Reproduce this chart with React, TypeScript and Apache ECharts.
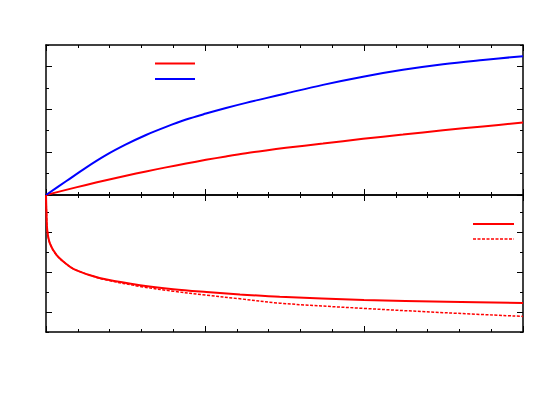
import React, { useEffect, useRef } from "react";
import * as echarts from "echarts";

// Top panel
const topX = [0, 0.126, 0.252, 0.377, 0.503, 0.629, 0.755, 0.881, 1.006, 1.132, 1.258, 1.384, 1.509, 1.742, 1.994, 2.245, 2.497, 2.748, 3.0];
const topBlue = [0, 0.32, 0.64, 0.93, 1.18, 1.4, 1.59, 1.76, 1.9, 2.03, 2.15, 2.26, 2.37, 2.57, 2.76, 2.92, 3.05, 3.15, 3.24];
const topRed = [0, 0.12, 0.235, 0.345, 0.45, 0.55, 0.645, 0.735, 0.82, 0.9, 0.975, 1.04, 1.1, 1.2, 1.31, 1.41, 1.51, 1.6, 1.69];

// Bottom panel
const botX = [0, 0.003, 0.008, 0.025, 0.067, 0.12, 0.172, 0.277, 0.382, 0.591, 0.8, 1.01, 1.22, 1.47, 2.0, 2.52, 3.0];
const botSolid = [-0.08, -0.5, -0.96, -1.29, -1.58, -1.775, -1.92, -2.08, -2.19, -2.33, -2.43, -2.5, -2.56, -2.62, -2.7, -2.745, -2.775];
const botDashed = [-0.08, -0.5, -0.96, -1.29, -1.58, -1.775, -1.92, -2.08, -2.2, -2.36, -2.48, -2.58, -2.67, -2.78, -2.91, -3.02, -3.11];

const topYMajor = [0, 1, 2, 3];
const topYMinor = [0.5, 1.5, 2.5, 3.5];
const botYMajor = [-3, -2, -1];
const botYMinor = [-3.5, -2.5, -1.5, -0.5];

const zip = (xs: number[], ys: number[]) => xs.map((x, i) => [x, ys[i]]);

const lineSt = { color: "#000", width: 1.5 };

function xAx(grid: number, pos: "top" | "bottom") {
  return {
    type: "value",
    gridIndex: grid,
    position: pos,
    min: 0,
    max: 3,
    interval: 1,
    axisLine: { show: true, onZero: false, lineStyle: lineSt },
    axisTick: { show: true, inside: true, length: 6, lineStyle: { color: "#000", width: 1 } },
    minorTick: { show: true, splitNumber: 5, length: 3, lineStyle: { color: "#000", width: 1 } },
    axisLabel: { show: false },
    splitLine: { show: false },
    minorSplitLine: { show: false },
  };
}

function yAx(grid: number, pos: "left" | "right", min: number, max: number, ticks: number[], len: number, line: boolean) {
  return {
    type: "value",
    gridIndex: grid,
    position: pos,
    min,
    max,
    axisLine: { show: line, onZero: false, lineStyle: lineSt },
    axisTick: { show: true, inside: true, length: len, customValues: ticks, lineStyle: { color: "#000", width: 1 } },
    axisLabel: { show: false },
    splitLine: { show: false },
  };
}

export default function App() {
  const ref = useRef<HTMLDivElement>(null);
  useEffect(() => {
    if (!ref.current) return;
    const chart = echarts.init(ref.current, null, { renderer: "svg" });
    const bMin = -3.5;
    const bMax = -0.075;
    const curve = { smooth: 0.35, showSymbol: false, symbol: "none" };
    chart.setOption({
      animation: false,
      backgroundColor: "#fff",
      grid: [
        { left: 46, right: 27, top: 45, height: 150 },
        { left: 46, right: 27, top: 195, height: 137 },
      ],
      xAxis: [xAx(0, "bottom"), xAx(0, "top"), xAx(1, "bottom"), xAx(1, "top")],
      yAxis: [
        yAx(0, "left", 0, 3.5, topYMajor, 6, true),
        yAx(0, "right", 0, 3.5, topYMajor, 6, true),
        yAx(0, "left", 0, 3.5, topYMinor, 3, false),
        yAx(0, "right", 0, 3.5, topYMinor, 3, false),
        yAx(1, "left", bMin, bMax, botYMajor, 6, true),
        yAx(1, "right", bMin, bMax, botYMajor, 6, true),
        yAx(1, "left", bMin, bMax, botYMinor, 3, false),
        yAx(1, "right", bMin, bMax, botYMinor, 3, false),
      ],
      series: [
        {
          type: "line", xAxisIndex: 0, yAxisIndex: 0, data: zip(topX, topRed), ...curve,
          lineStyle: { color: "#ff0000", width: 2 },
        },
        {
          type: "line", xAxisIndex: 0, yAxisIndex: 0, data: zip(topX, topBlue), ...curve,
          lineStyle: { color: "#0000ff", width: 2 },
        },
        {
          type: "line", xAxisIndex: 2, yAxisIndex: 4, data: zip(botX, botDashed), ...curve,
          lineStyle: { color: "#ff0000", width: 1.5, type: [3, 1.5] },
        },
        {
          type: "line", xAxisIndex: 2, yAxisIndex: 4, data: zip(botX, botSolid), ...curve,
          lineStyle: { color: "#ff0000", width: 2 },
        },
      ],
      graphic: [
        { type: "line", shape: { x1: 155, y1: 63.5, x2: 195, y2: 63.5 }, style: { stroke: "#ff0000", lineWidth: 2 } },
        { type: "line", shape: { x1: 155, y1: 79, x2: 195, y2: 79 }, style: { stroke: "#0000ff", lineWidth: 2 } },
        { type: "line", shape: { x1: 473, y1: 224, x2: 514, y2: 224 }, style: { stroke: "#ff0000", lineWidth: 2 } },
        { type: "line", shape: { x1: 473, y1: 239, x2: 514, y2: 239 }, style: { stroke: "#ff0000", lineWidth: 1.5, lineDash: [3, 1.5] } },
      ],
    });
    return () => chart.dispose();
  }, []);
  return <div ref={ref} style={{ width: 550, height: 393, position: "absolute", left: 0, top: 0 }} />;
}
